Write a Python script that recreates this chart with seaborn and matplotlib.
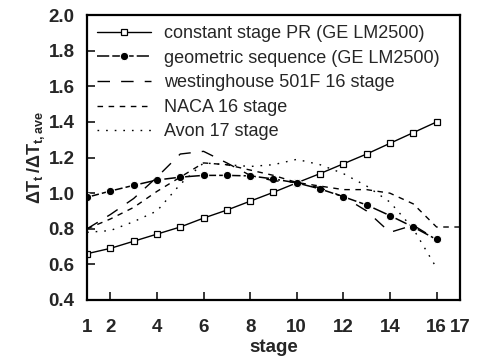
import matplotlib
matplotlib.use("Agg")
import matplotlib.pyplot as plt
import seaborn as sns
import pandas as pd

stages = list(range(1, 17))
const_pr = [0.66, 0.69, 0.73, 0.77, 0.81, 0.86, 0.905, 0.955, 1.005, 1.058,
            1.11, 1.165, 1.22, 1.28, 1.34, 1.40]
geometric = [0.977, 1.012, 1.044, 1.074, 1.09, 1.10, 1.10, 1.097, 1.08, 1.058,
             1.024, 0.98, 0.934, 0.874, 0.81, 0.74]
west_stages = list(range(1, 17))
westinghouse = [0.80, 0.88, 0.97, 1.09, 1.22, 1.235, 1.17, 1.10, 1.07, 1.06,
                1.03, 0.98, 0.90, 0.78, 0.82, 0.74]
naca_stages = list(range(1, 18))
naca = [0.80, 0.855, 0.92, 1.01, 1.09, 1.17, 1.16, 1.13, 1.10, 1.06,
        1.04, 1.02, 1.02, 1.00, 0.94, 0.81, 0.81]
avon_stages = list(range(1, 17))
avon = [0.78, 0.79, 0.84, 0.90, 1.05, 1.17, 1.16, 1.15, 1.16, 1.19,
        1.16, 1.11, 1.04, 0.95, 0.80, 0.58]

labels = ["constant stage PR (GE LM2500)", "geometric sequence (GE LM2500)",
          "westinghouse 501F 16 stage", "NACA 16 stage", "Avon 17 stage"]

sns.set_style("ticks")
plt.rcParams['font.family'] = ['Liberation Sans', 'DejaVu Sans']
plt.rcParams['mathtext.fontset'] = 'custom'
plt.rcParams['mathtext.rm'] = 'Liberation Sans:bold'
plt.rcParams['mathtext.it'] = 'Liberation Sans:bold'
plt.rcParams['mathtext.bf'] = 'Liberation Sans:bold'

fig = plt.figure(figsize=(4.81, 3.61), dpi=100)
ax = fig.add_axes([0.181, 0.169, 0.775, 0.789])

sns.lineplot(x=stages, y=const_pr, ax=ax, color='black', lw=1.0, marker='s',
             markersize=5, markerfacecolor='white', markeredgecolor='black',
             markeredgewidth=0.9, label=labels[0])
sns.lineplot(x=stages, y=geometric, ax=ax, color='black', lw=1.1, marker='o',
             markersize=6, markerfacecolor='black', dashes=False,
             linestyle=(0, (8, 2, 14, 2)), label=labels[1])
sns.lineplot(x=west_stages, y=westinghouse, ax=ax, color='black', lw=1.0,
             linestyle=(0, (9, 8)), label=labels[2])
sns.lineplot(x=naca_stages, y=naca, ax=ax, color='black', lw=1.0,
             linestyle=(0, (4, 4)), label=labels[3])
sns.lineplot(x=avon_stages, y=avon, ax=ax, color='black', lw=1.0,
             linestyle=(0, (1.2, 5)), label=labels[4])

ax.set_xlim(1, 17)
ax.set_ylim(0.4, 2.0)
ax.set_xticks([1, 2, 4, 6, 8, 10, 12, 14, 16, 17])
ax.set_yticks([0.4, 0.6, 0.8, 1.0, 1.2, 1.4, 1.6, 1.8, 2.0])
ax.set_yticklabels(["0.4", "0.6", "0.8", "1.0", "1.2", "1.4", "1.6", "1.8", "2.0"])
ax.tick_params(direction='in', length=6, width=1.3, labelsize=13.5)
ax.tick_params(axis='x', pad=14)
ax.tick_params(axis='y', pad=9)
for lab in ax.get_xticklabels() + ax.get_yticklabels():
    lab.set_fontweight('bold')
for s in ax.spines.values():
    s.set_linewidth(1.6)
    s.set_color('black')

ax.set_xlabel("stage", fontsize=13.5, fontweight='bold', labelpad=2)
ax.set_ylabel(r"$\Delta T_t\,/\Delta T_{t,ave}$", fontsize=13, labelpad=1)

leg = ax.legend(loc='upper left', frameon=False, fontsize=13, handlelength=3.0,
                handletextpad=0.7, labelspacing=0.42, borderaxespad=0.15,
                bbox_to_anchor=(0.0, 1.0))

fig.savefig("out.png", dpi=100)
